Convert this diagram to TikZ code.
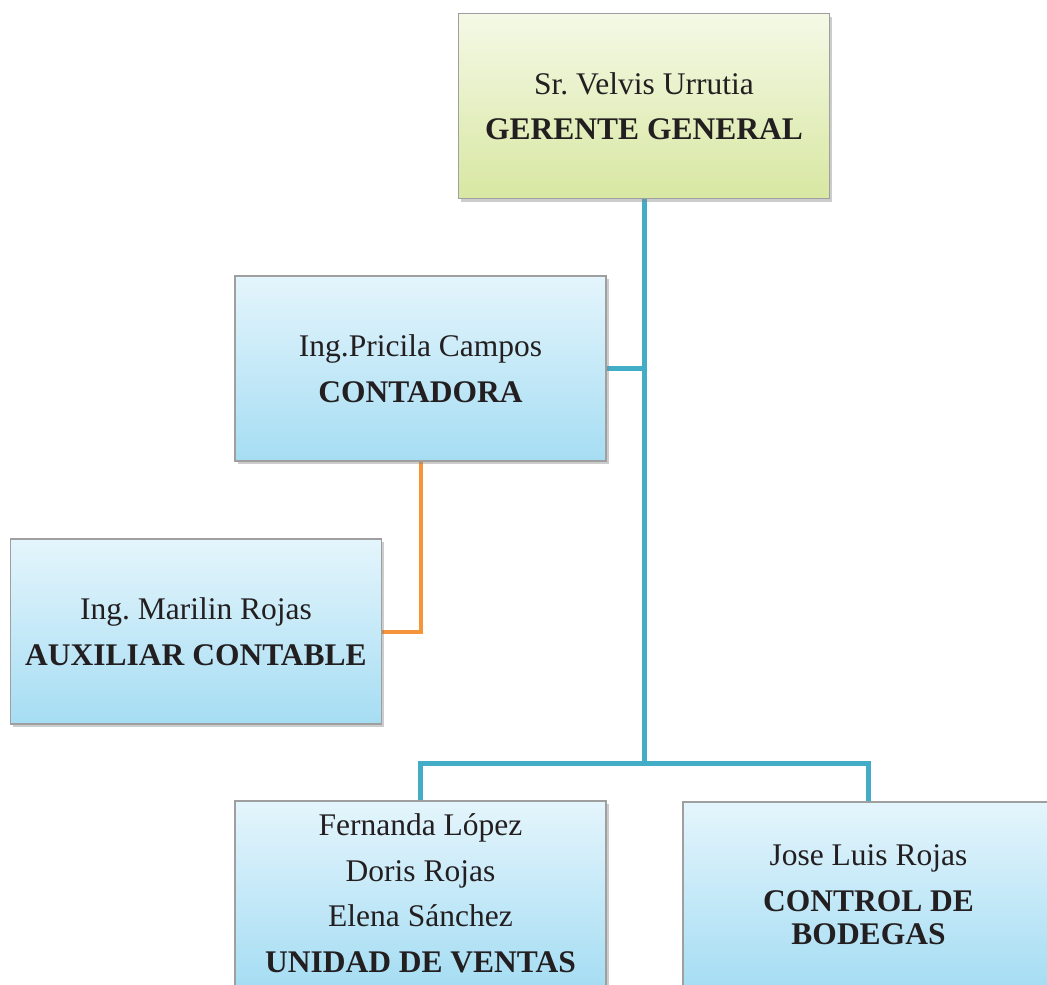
\documentclass[tikz,border=0pt]{standalone}
\usepackage{fontspec}
\setmainfont{Liberation Serif}
\frenchspacing
\usetikzlibrary{shadows,backgrounds}
\definecolor{inkdark}{HTML}{231F20}
\definecolor{greentop}{HTML}{F4F9E6}
\definecolor{greenbot}{HTML}{D8E7A2}
\definecolor{bluetop}{HTML}{E4F5FC}
\definecolor{bluebot}{HTML}{A6DDF3}
\definecolor{teal}{HTML}{43ACC6}
\definecolor{orangeline}{HTML}{F5953A}
\tikzset{
  orgbox/.style={draw=gray!75, line width=1.2pt, rectangle,
    minimum width=371pt, minimum height=185pt, inner sep=0pt,
    align=center, text=inkdark,
    font=\fontsize{31.5}{45.5}\selectfont,
    drop shadow={shadow xshift=2.5pt, shadow yshift=-3pt, opacity=0.4, fill=gray}},
  greenbox/.style={orgbox, top color=greentop, bottom color=greenbot},
  bluebox/.style={orgbox, top color=bluetop, bottom color=bluebot},
  mainlink/.style={draw=teal, line width=5pt, line join=miter},
  sublink/.style={draw=orangeline, line width=4pt, line join=miter}
}
\begin{document}
\begin{tikzpicture}[x=1pt, y=-1pt]
  \useasboundingbox (0,0) rectangle (1047,985);
  \clip (0,0) rectangle (1047,985);

  % boxes
  \node[greenbox] (gerente) at (644,106)
    {Sr. Velvis Urrutia\\\textbf{GERENTE GENERAL}};
  \node[bluebox] (contadora) at (420.5,368.5)
    {Ing.Pricila Campos\\\textbf{CONTADORA}};
  \node[bluebox] (auxiliar) at (196,631.5)
    {Ing. Marilin Rojas\\\textbf{AUXILIAR CONTABLE}};
  \node[bluebox] (ventas) at (420.5,893.5)
    {Fernanda López\\Doris Rojas\\Elena Sánchez\\\textbf{UNIDAD DE VENTAS}};
  \node[bluebox] (bodegas) at (868.5,894.5)
    {Jose Luis Rojas\\\textbf{CONTROL DE}\\[-12.5pt]\textbf{BODEGAS}};

  % junction points on the main trunk
  \coordinate (jcont) at (644,370);
  \coordinate (jbottom) at (644,763);

  % connectors, kept behind the boxes
  \begin{scope}[on background layer]
    \path[mainlink] (gerente.south) -- (jbottom);
    \path[mainlink] (contadora.east) -- (contadora.east -| jcont);
    \path[mainlink] (ventas.north) |- (jbottom) -| (bodegas.north);
    \path[sublink] (contadora.south) |- (auxiliar.east);
  \end{scope}
\end{tikzpicture}
\end{document}
